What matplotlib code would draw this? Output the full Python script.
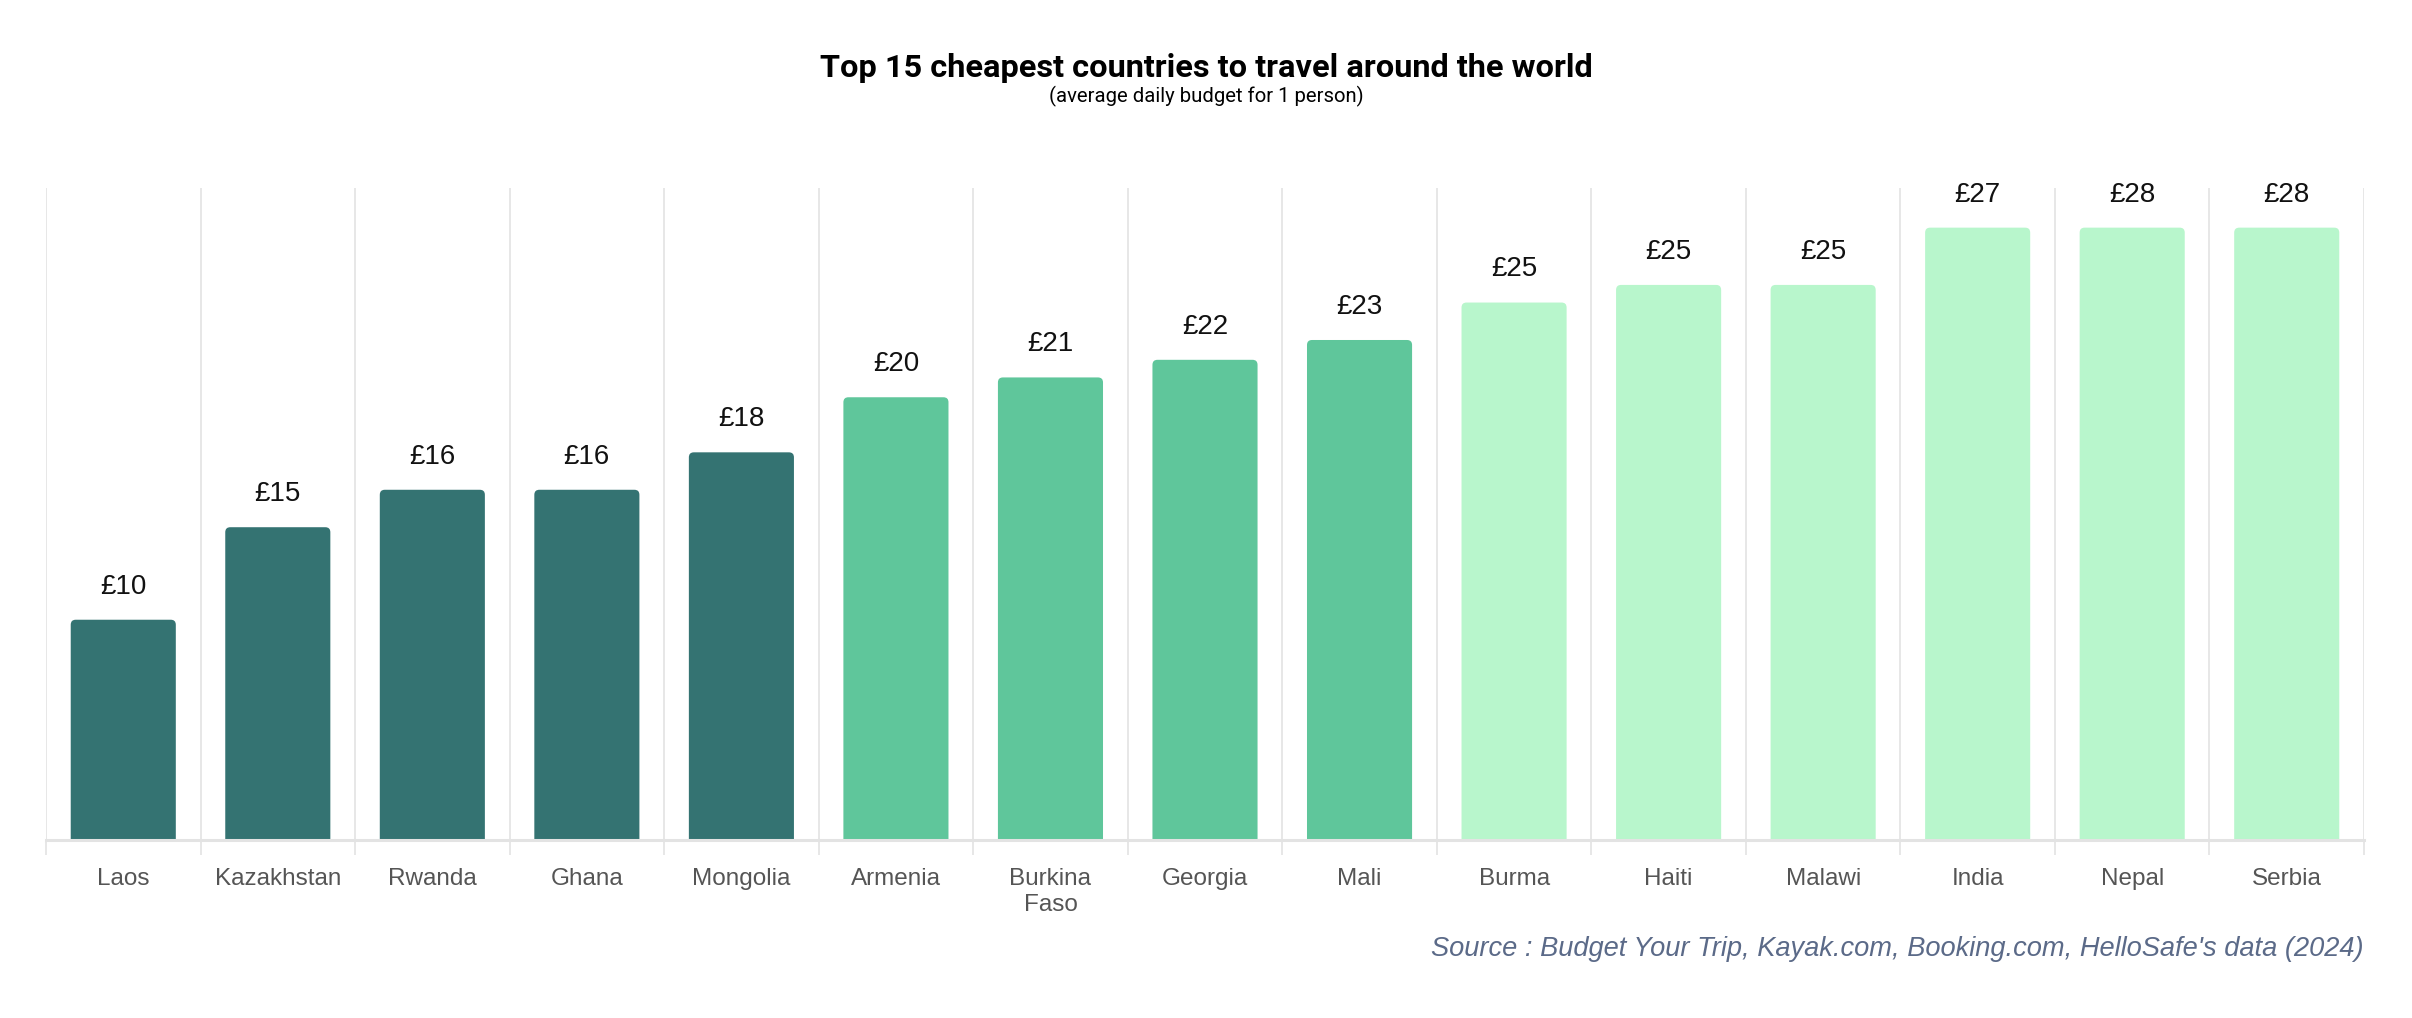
import matplotlib
matplotlib.use("Agg")
import matplotlib.pyplot as plt
from matplotlib.patches import FancyBboxPatch
import numpy as np

countries = ["Laos", "Kazakhstan", "Rwanda", "Ghana", "Mongolia", "Armenia",
             "Burkina\nFaso", "Georgia", "Mali", "Burma", "Haiti", "Malawi",
             "India", "Nepal", "Serbia"]
values = [10.0, 14.2, 15.9, 15.9, 17.6, 20.1, 21.0, 21.8, 22.7, 24.4, 25.2, 25.2, 27.8, 27.8, 27.8]
value_labels = ["£10", "£15", "£16", "£16", "£18", "£20", "£21", "£22", "£23",
                "£25", "£25", "£25", "£27", "£28", "£28"]
tiers = [0, 0, 0, 0, 0, 1, 1, 1, 1, 2, 2, 2, 2, 2, 2]
tier_colors = ["#347372", "#5fc69b", "#b8f6cc"]

title = "Top 15 cheapest countries to travel around the world"
subtitle = "(average daily budget for 1 person)"
source = "Source : Budget Your Trip, Kayak.com, Booking.com, HelloSafe's data (2024)"

W, H, DPI = 2412, 1018, 100
fig = plt.figure(figsize=(W / DPI, H / DPI), dpi=DPI)
fig.patch.set_facecolor("white")
ax = fig.add_axes([46 / W, 1 - 840 / H, (2364 - 46) / W, (840 - 188) / H])

ymax = 29.6
n = len(countries)
x = np.arange(n)
ax.set_xlim(-0.5, n - 0.5)
ax.set_ylim(0, ymax)

bars = ax.bar(x, values, width=0.68, color=[tier_colors[t] for t in tiers])
# rounded top corners
px_x = (n) / (2364 - 46)
px_y = ymax / (840 - 188)
for b in bars:
    b.set_visible(False)
    bx, by = b.get_x(), b.get_y()
    bw, bh = b.get_width(), b.get_height()
    p = FancyBboxPatch((bx, by - 1.0), bw, bh + 1.0,
                       boxstyle="round,pad=0,rounding_size=%f" % (5 * px_x),
                       mutation_aspect=px_y / px_x,
                       facecolor=b.get_facecolor(), edgecolor="none",
                       clip_on=True, zorder=3)
    ax.add_patch(p)

for xi, v, lab in zip(x, values, value_labels):
    ax.annotate(lab, (xi, v), xytext=(0, 14.5), textcoords="offset points",
                ha="center", va="bottom", fontsize=20, color="#111111",
                family="Liberation Sans")

# grid / boundaries
bounds = np.arange(n + 1) - 0.5
ax.set_xticks(bounds, minor=True)
ax.set_xticks(x)
ax.set_xticklabels(countries, fontsize=17.5, color="#555555", family="Liberation Sans",
                   linespacing=1.2)
ax.tick_params(axis="x", which="major", length=0, pad=20.5)
ax.tick_params(axis="x", which="minor", length=11, width=1.2, color="#e3e3e3")
ax.xaxis.grid(True, which="minor", color="#e3e3e3", linewidth=1.2, zorder=0)
ax.set_axisbelow(True)
ax.set_yticks([])
for s in ["top", "right", "left"]:
    ax.spines[s].set_visible(False)
ax.spines["bottom"].set_color("#e3e3e3")
ax.spines["bottom"].set_linewidth(2.2)
ax.spines["bottom"].set_zorder(4)

fig.text(0.5, 1 - 68 / H, title, ha="center", va="center", fontsize=23.4,
         fontweight="bold", family="Roboto", color="#000000")
fig.text(0.5, 1 - 96 / H, subtitle, ha="center", va="center", fontsize=14.6,
         family="Roboto", color="#000000")
fig.text(2364 / W, 1 - 949 / H, source, ha="right", va="center", fontsize=19.6,
         style="italic", family="Liberation Sans", color="#5b6a88")

fig.savefig("out.png", dpi=DPI, facecolor="white")
